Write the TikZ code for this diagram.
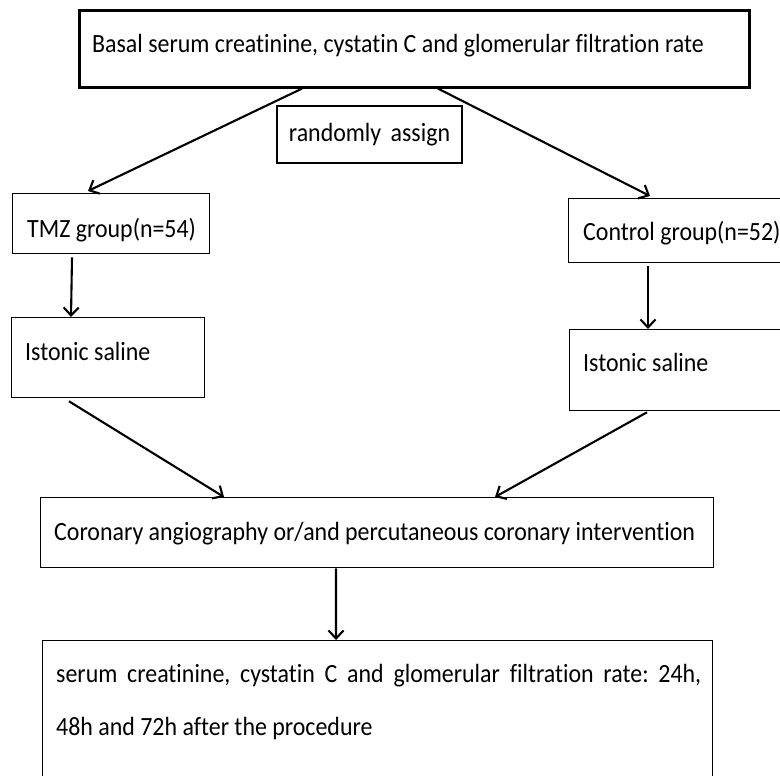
\documentclass[tikz,border=0pt]{standalone}
\usepackage{graphicx}
\usepackage{fontspec}
\setmainfont[Ligatures={NoCommon}]{Carlito}
\usetikzlibrary{arrows.meta}
\frenchspacing
\newcommand\vtx[1]{\scalebox{1}[1.1]{#1}}
\begin{document}
\begin{tikzpicture}[x=1bp,y=-1bp,
  box/.style={draw, line width=1.3bp, inner sep=0pt, anchor=north west},
  lbl/.style={anchor=base west, inner sep=0pt},
  arr/.style={-{Straight Barb[length=8bp,width=15bp,line width=2.1bp]}, line width=2.1bp},
  every node/.append style={font=\fontsize{23.9bp}{28bp}\selectfont}]
\useasboundingbox (0,0) rectangle (780,776);
\fill[white] (0,0) rectangle (780,776);
% boxes
\node[box, line width=2.6bp, minimum width=670bp, minimum height=77bp] (top) at (78,9) {};
\node[draw, line width=1.3bp, inner sep=0pt, minimum width=185bp, minimum height=57bp] (rand) at (369.5,134.5) {\vtx{randomly\ \,assign}};
\node[box, minimum width=197bp, minimum height=60bp] (tmz) at (12,193) {};
\node[box, minimum width=214bp, minimum height=64bp] (ctrl) at (568,198) {};
\node[box, minimum width=193bp, minimum height=80bp] (istL) at (11,317) {};
\node[box, minimum width=214bp, minimum height=81bp] (istR) at (569,329) {};
\node[box, minimum width=673bp, minimum height=70bp] (cor) at (40,497) {};
\node[box, minimum width=670bp, minimum height=150bp] (bot) at (42,640) {};
% labels
\node[lbl] (topT) at (92,53) {\vtx{Basal serum creatinine, cystatin C and glomerular filtration rate}};
\node[lbl] (tmzT) at (27,237) {\vtx{TMZ group(n=54)}};
\node[lbl] (ctrlT) at (583,240) {\vtx{Control group(n=52)}};
\node[lbl] (istLT) at (25,360) {\vtx{Istonic saline}};
\node[lbl] (istRT) at (583,371) {\vtx{Istonic saline}};
\node[lbl] (corT) at (54,540) {\vtx{Coronary angiography or/and percutaneous coronary intervention}};
\node[lbl] (botT1) at (56,682) {\vtx{\makebox[645bp][s]{serum creatinine, cystatin C and glomerular filtration rate: 24h,}}};
\node[lbl] (botT2) at (56,735) {\vtx{48h and 72h after the procedure}};
% connectors
\draw[arr] ([xshift=224bp]top.south west) -- ([xshift=76bp,yshift=2bp]tmz.north west);
\draw[arr] ([xshift=360bp]top.south west) -- ([xshift=82bp,yshift=2bp]ctrl.north west);
\draw[arr] ([xshift=60bp,yshift=-3bp]tmz.south west) -- ([xshift=60bp]istL.north west);
\draw[arr] ([xshift=80bp,yshift=-3bp]ctrl.south west) -- ([xshift=79bp]istR.north west);
\draw[arr] ([xshift=58bp,yshift=-3bp]istL.south west) -- ([xshift=184bp]cor.north west);
\draw[arr] ([xshift=78bp,yshift=-1bp]istR.south west) -- ([xshift=455bp]cor.north west);
\draw[arr] ([xshift=296bp]cor.south west) -- ([xshift=294bp]bot.north west);
\end{tikzpicture}
\end{document}
